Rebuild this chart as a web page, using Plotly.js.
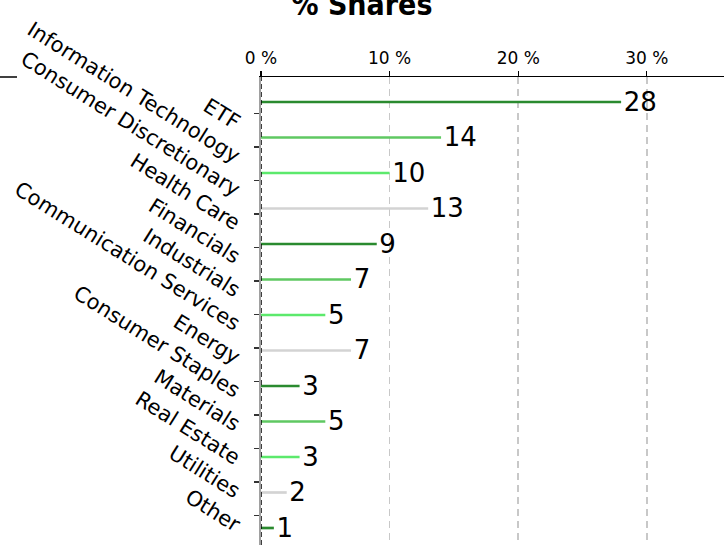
<!DOCTYPE html>
<html>
<head>
<meta charset="utf-8">
<script src="https://cdn.plot.ly/plotly-3.0.1.min.js"></script>
<style>html,body{margin:0;padding:0;background:#fff;}#chart{width:724px;height:545px;}</style>
</head>
<body>
<div id="chart"></div>
<script>
const categories = ['ETF','Information Technology','Consumer Discretionary','Health Care','Financials','Industrials','Communication Services','Energy','Consumer Staples','Materials','Real Estate','Utilities','Other'];
const shares = [28,14,10,13,9,7,5,7,3,5,3,2,1];
const palette = ['#2a8a2f','#5fc862','#5ce96c','#d3d3d3'];
const xTickVals = [0,10,20,30];
const xTickText = ['0 %','10 %','20 %','30 %'];
const titleText = '% Shares';

const barColors = categories.map((c,i)=>palette[i % palette.length]);

const bars = {
  type:'bar', orientation:'h',
  x: shares, y: categories, yaxis:'y2',
  width: 0.075,
  marker:{color: barColors, line:{width:0}},
  text: shares.map(v=>'\u200A'+v), textposition:'outside', constraintext:'none', cliponaxis:false,
  textfont:{family:'DejaVu Sans', size:26, color:'#000'},
  hoverinfo:'skip', showlegend:false
};
const labelsTrace = {
  type:'scatter', mode:'markers', x: categories.map(()=>0), y: categories,
  marker:{opacity:0}, hoverinfo:'skip', showlegend:false
};

const layout = {
  width:724, height:545,
  margin:{l:261, r:0, t:77, b:0, autoexpand:false},
  paper_bgcolor:'#fff', plot_bgcolor:'#fff',
  title:{text:titleText, font:{family:'DejaVu Sans Condensed', size:30, weight:'bold', color:'#000'},
         xref:'container', x:0.5, xanchor:'center', yref:'container', y:0.991, yanchor:'middle'},
  xaxis:{side:'top', range:[0,36], tickmode:'array', tickvals:xTickVals, ticktext:xTickText,
         showline:true, linecolor:'#000', linewidth:1.5, ticks:'outside', ticklen:5, tickwidth:1.2, tickcolor:'#000',
         showgrid:true, gridcolor:'#c8c8c8', gridwidth:1.5, griddash:'7px,5px', zeroline:false,
         tickfont:{family:'DejaVu Sans', size:17, color:'#000'}, fixedrange:true},
  yaxis:{type:'category', categoryarray:categories, range:[12.874,-1.083],
         showline:true, linecolor:'#a0a0a0', linewidth:2, ticks:'outside', ticklen:5, tickwidth:1.5, tickcolor:'#333',
         tickangle:32, tickfont:{family:'DejaVu Sans', size:21, color:'#000'},
         ticklabelstandoff:10, ticklabelshift:-11,
         showgrid:false, zeroline:false, fixedrange:true},
  yaxis2:{type:'category', categoryarray:categories, range:[12.479,-0.704], overlaying:'y', side:'left',
          visible:false, showgrid:false, zeroline:false, fixedrange:true},
  shapes:[
    {type:'line', xref:'x', x0:0, x1:0, yref:'paper', y0:0, y1:1, line:{color:'#000', width:1.5, dash:'5px,3px'}},
    {type:'line', xref:'paper', x0:-261/463, x1:(17-261)/463, yref:'paper', y0:1, y1:1, line:{color:'#000', width:1.5}}
  ]
};

Plotly.newPlot('chart', [labelsTrace, bars], layout, {staticPlot:true, displayModeBar:false});
</script>
</body>
</html>
